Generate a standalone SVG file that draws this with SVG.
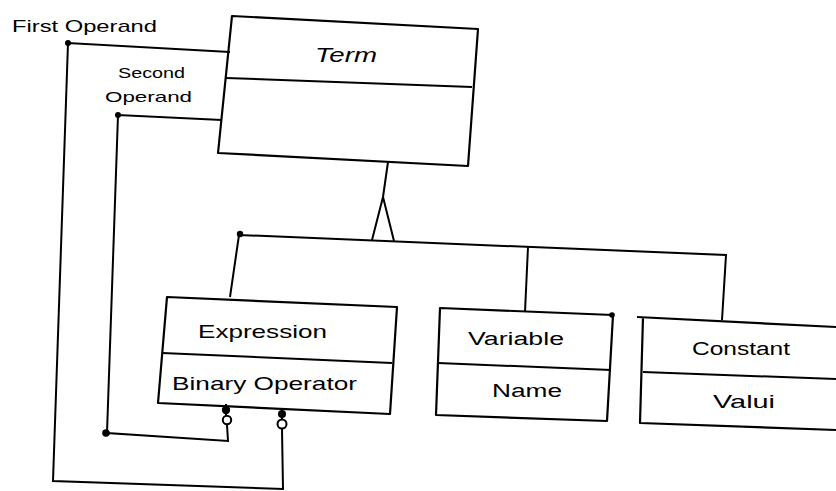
<svg xmlns="http://www.w3.org/2000/svg" width="836" height="491" viewBox="0 0 836 491">
<style>
.box{fill:none;stroke:#000;stroke-width:2.2;stroke-linejoin:round}
.ln{fill:none;stroke:#000;stroke-width:2}
.t{font-family:"Liberation Sans","DejaVu Sans",sans-serif;fill:#000}
.dot{fill:#000}
.oc{fill:#fff;stroke:#000;stroke-width:2}
</style>
<rect width="836" height="491" fill="#fff"/>
<g id="term">
<polygon class="box" points="232,16 478,29 468,166 218,153"/>
<line class="ln" x1="226" y1="78" x2="472" y2="87"/>
<text class="t" x="346" y="62" font-size="20" font-style="italic" text-anchor="middle" textLength="62" lengthAdjust="spacingAndGlyphs">Term</text>
</g>
<g id="expression">
<polygon class="box" points="167,297 397,307 390,414 158,403"/>
<line class="ln" x1="162" y1="353" x2="392" y2="363"/>
<text class="t" x="198" y="338" font-size="19" textLength="129" lengthAdjust="spacingAndGlyphs">Expression</text>
<text class="t" x="172" y="390" font-size="19" textLength="185" lengthAdjust="spacingAndGlyphs">Binary Operator</text>
</g>
<g id="variable">
<polygon class="box" points="440,308 613,315 607,421 436,415"/>
<line class="ln" x1="438" y1="363" x2="611" y2="370"/>
<text class="t" x="468" y="345" font-size="18" textLength="96" lengthAdjust="spacingAndGlyphs">Variable</text>
<text class="t" x="492" y="397" font-size="18" textLength="70" lengthAdjust="spacingAndGlyphs">Name</text>
<circle class="dot" cx="612" cy="315" r="2.8"/>
</g>
<g id="constant">
<path class="box" d="M836,327 L637,317 M643,317 L640,423 L836,430"/>
<line class="ln" x1="643" y1="372" x2="836" y2="379"/>
<text class="t" x="692" y="355" font-size="18" textLength="98" lengthAdjust="spacingAndGlyphs">Constant</text>
<text class="t" x="713" y="408" font-size="18" textLength="62" lengthAdjust="spacingAndGlyphs">Valui</text>
</g>
<g id="labels">
<text class="t" x="12" y="32" font-size="17" textLength="145" lengthAdjust="spacingAndGlyphs">First Operand</text>
<text class="t" x="118" y="78" font-size="15" textLength="67" lengthAdjust="spacingAndGlyphs">Second</text>
<text class="t" x="105" y="102" font-size="15" textLength="87" lengthAdjust="spacingAndGlyphs">Operand</text>
</g>
<g id="connectors">
<line class="ln" x1="388" y1="162" x2="383" y2="197"/>
<polyline class="ln" points="372,240 383,197 394,241"/>
<polyline class="ln" points="230,297 239,235 726,255 722,320"/>
<line class="ln" x1="528" y1="247" x2="525" y2="312"/>
<circle class="dot" cx="240" cy="234" r="3.2"/>
<polyline class="ln" points="230,52 68,43 53,481 283,489 282,429"/>
<circle class="dot" cx="68" cy="43" r="3"/>
<polyline class="ln" points="222,120 118,115 107,433 228,441 227,425"/>
<circle class="dot" cx="118" cy="115" r="3"/>
<circle class="dot" cx="106" cy="433" r="3.8"/>
<line class="ln" x1="226" y1="404" x2="226" y2="416"/>
<circle class="dot" cx="226" cy="410" r="4.2"/>
<circle class="oc" cx="227" cy="420" r="4.2"/>
<line class="ln" x1="282" y1="409" x2="282" y2="420"/>
<circle class="dot" cx="282" cy="414" r="4"/>
<circle class="oc" cx="282" cy="424" r="4.5"/>
</g>
</svg>
